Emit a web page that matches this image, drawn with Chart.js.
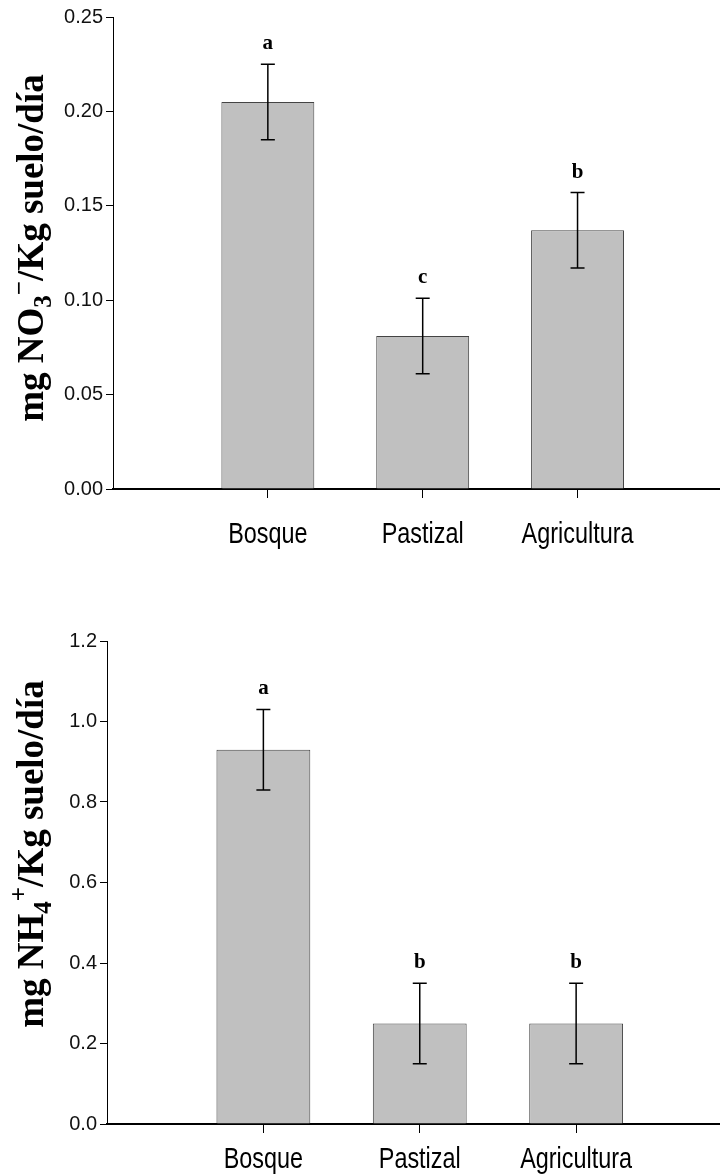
<!DOCTYPE html>
<html>
<head>
<meta charset="utf-8">
<script src="https://cdn.jsdelivr.net/npm/chart.js@4.4.0/dist/chart.umd.min.js"></script>
<style>
  body { margin: 0; background: #fff; }
  .panel { position: relative; width: 720px; height: 588px; }
</style>
</head>
<body>
<div class="panel"><canvas id="nitrato"></canvas></div>
<div class="panel"><canvas id="amonio"></canvas></div>
<script>
const categorias = ['Bosque', 'Pastizal', 'Agricultura'];
const posiciones = [1, 2, 3];

const nitrato = [0.205, 0.081, 0.137];
const nitratoError = [0.02, 0.02, 0.02];
const nitratoLetras = ['a', 'c', 'b'];
const nitratoTicks = [0, 0.05, 0.10, 0.15, 0.20, 0.25];

const amonio = [0.93, 0.25, 0.25];
const amonioError = [0.10, 0.10, 0.10];
const amonioLetras = ['a', 'b', 'b'];
const amonioTicks = [0, 0.2, 0.4, 0.6, 0.8, 1.0, 1.2];

// barras de error + letras de significancia
const barrasError = {
    id: 'barrasError',
    afterDatasetsDraw(chart, args, opts) {
        const ctx = chart.ctx;
        const y = chart.scales.y;
        const meta = chart.getDatasetMeta(0);
        ctx.save();
        ctx.strokeStyle = '#000';
        ctx.lineWidth = 1.5;
        ctx.fillStyle = '#000';
        ctx.font = 'bold 21px "Liberation Serif", "Times New Roman", serif';
        ctx.textAlign = 'center';
        meta.data.forEach(function(bar, i) {
            const v = opts.valores[i];
            const e = opts.errores[i];
            const top = y.getPixelForValue(v + e);
            const bot = y.getPixelForValue(v - e);
            ctx.beginPath();
            ctx.moveTo(bar.x, top); ctx.lineTo(bar.x, bot);
            ctx.moveTo(bar.x - 7, top); ctx.lineTo(bar.x + 7, top);
            ctx.moveTo(bar.x - 7, bot); ctx.lineTo(bar.x + 7, bot);
            ctx.stroke();
            ctx.fillText(opts.letras[i], bar.x, top - 15);
        });
        ctx.restore();
    }
};

// etiquetas del eje X, letra angosta como en el original
const etiquetasX = {
    id: 'etiquetasX',
    afterDraw(chart, args, opts) {
        const ctx = chart.ctx;
        const x = chart.scales.x;
        ctx.save();
        ctx.fillStyle = '#000';
        ctx.font = '30px "Liberation Sans", Arial, sans-serif';
        ctx.textAlign = 'center';
        ctx.textBaseline = 'alphabetic';
        posiciones.forEach(function(p, i) {
            ctx.save();
            ctx.translate(x.getPixelForValue(p), x.top + opts.base);
            ctx.scale(0.78, 1);
            ctx.fillText(categorias[i], 0, 0);
            ctx.restore();
        });
        ctx.restore();
    }
};

// titulo del eje Y con subindice y superindice
const tituloY = {
    id: 'tituloY',
    afterDraw(chart, args, opts) {
        const ctx = chart.ctx;
        const grande = 'bold 37px "Liberation Serif", "Times New Roman", serif';
        const chico = 'bold 25px "Liberation Serif", "Times New Roman", serif';
        let total = 0;
        opts.partes.forEach(function(p) {
            ctx.font = p.sub || p.sup ? chico : grande;
            total += ctx.measureText(p.t).width;
        });
        ctx.save();
        ctx.translate(opts.x, opts.y);
        ctx.rotate(-Math.PI / 2);
        ctx.fillStyle = '#000';
        ctx.textBaseline = 'alphabetic';
        let pos = -total / 2;
        opts.partes.forEach(function(p) {
            ctx.font = p.sub || p.sup ? chico : grande;
            let dy = 0;
            if (p.sub) dy = 8;
            if (p.sup) dy = -16;
            ctx.fillText(p.t, pos, dy);
            pos += ctx.measureText(p.t).width;
        });
        ctx.restore();
    }
};

function crearGrafico(id, valores, errores, letras, ticksY, decimales, cfg) {
    const ctx = document.getElementById(id).getContext('2d');
    return new Chart(ctx, {
        type: 'bar',
        data: {
            datasets: [{
                data: posiciones.map((p, i) => ({ x: p, y: valores[i] })),
                backgroundColor: '#c0c0c0',
                borderColor: '#444',
                borderWidth: 1,
                categoryPercentage: 1,
                barPercentage: 0.6
            }]
        },
        options: {
            responsive: true,
            maintainAspectRatio: false,
            animation: false,
            layout: { padding: { top: cfg.arriba, left: 0, right: 0, bottom: 0 } },
            plugins: {
                legend: { display: false },
                tooltip: { enabled: false },
                barrasError: { valores: valores, errores: errores, letras: letras },
                etiquetasX: { base: cfg.baseX },
                tituloY: { x: 43, y: cfg.tituloY, partes: cfg.titulo }
            },
            scales: {
                x: {
                    type: 'linear',
                    offset: false,
                    min: 0,
                    max: 3.92,
                    afterBuildTicks: s => { s.ticks = posiciones.map(v => ({ value: v })); },
                    afterFit: s => { s.height = cfg.altoX; },
                    grid: { offset: false, drawOnChartArea: false, tickLength: 9, color: '#000' },
                    border: { color: '#000', width: 2 },
                    ticks: { display: false }
                },
                y: {
                    min: ticksY[0],
                    max: ticksY[ticksY.length - 1],
                    afterBuildTicks: s => { s.ticks = ticksY.map(v => ({ value: v })); },
                    afterFit: s => { s.width = cfg.anchoY; },
                    grid: { drawOnChartArea: false, tickLength: 7, color: '#000' },
                    border: { color: '#000', width: 1 },
                    ticks: {
                        color: '#111',
                        padding: 3,
                        font: { family: '"Liberation Sans", Arial, sans-serif', size: 20 },
                        callback: v => v.toFixed(decimales)
                    }
                }
            }
        },
        plugins: [barrasError, etiquetasX, tituloY]
    });
}

crearGrafico('nitrato', nitrato, nitratoError, nitratoLetras, nitratoTicks, 2, {
    arriba: 17, altoX: 99, baseX: 54, anchoY: 113, tituloY: 248,
    titulo: [{ t: 'mg NO' }, { t: '3', sub: true }, { t: '\u2212', sup: true }, { t: '/Kg suelo/día' }]
});

crearGrafico('amonio', amonio, amonioError, amonioLetras, amonioTicks, 1, {
    arriba: 53, altoX: 52, baseX: 44, anchoY: 107, tituloY: 266,
    titulo: [{ t: 'mg NH' }, { t: '4', sub: true }, { t: '+', sup: true }, { t: '/Kg suelo/día' }]
});
</script>
</body>
</html>
